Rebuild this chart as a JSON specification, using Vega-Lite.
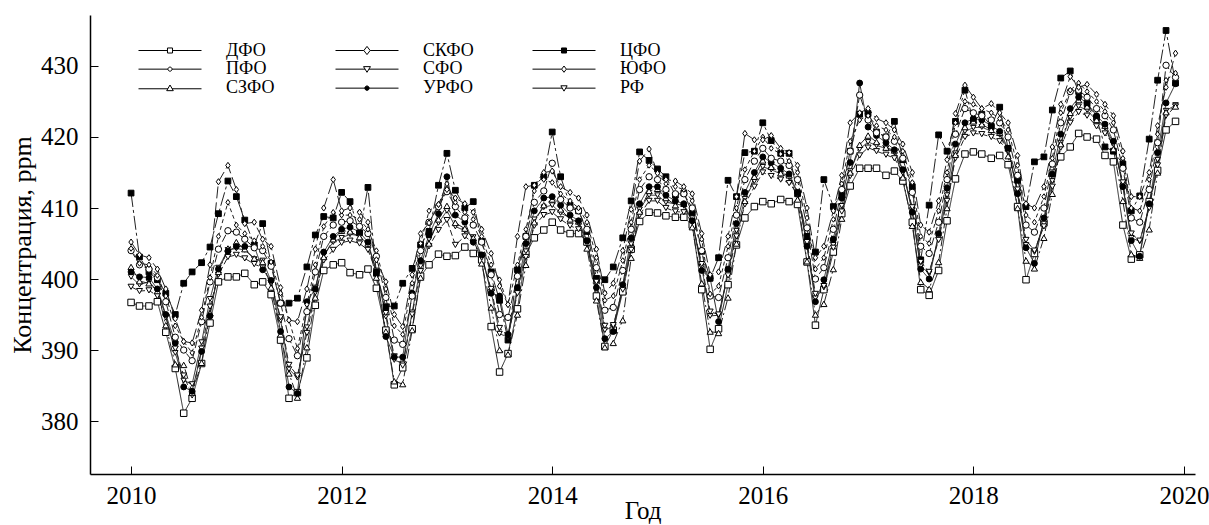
{
"$schema":"https://vega.github.io/schema/vega-lite/v6.json",
"width":1105,"height":459,
"autosize":{"type":"none"},
"padding":{"left":90,"top":15,"right":14,"bottom":51},
"background":"white",
"config":{"view":{"stroke":null},"font":"Liberation Serif"},
"datasets":{"co2":[
{"s":"ДФО","t":2010,"v":396.7},{"s":"ДФО","t":2010.08,"v":396.2},{"s":"ДФО","t":2010.17,"v":396.2},{"s":"ДФО","t":2010.25,"v":396.8},{"s":"ДФО","t":2010.33,"v":392.5},{"s":"ДФО","t":2010.42,"v":387.4},{"s":"ДФО","t":2010.5,"v":381.1},{"s":"ДФО","t":2010.58,"v":383.2},{"s":"ДФО","t":2010.67,"v":388.1},{"s":"ДФО","t":2010.75,"v":393.8},{"s":"ДФО","t":2010.83,"v":399.6},{"s":"ДФО","t":2010.92,"v":400.3},
{"s":"ДФО","t":2011,"v":400.3},{"s":"ДФО","t":2011.08,"v":400.8},{"s":"ДФО","t":2011.17,"v":399.2},{"s":"ДФО","t":2011.25,"v":399.6},{"s":"ДФО","t":2011.33,"v":397.8},{"s":"ДФО","t":2011.42,"v":391.4},{"s":"ДФО","t":2011.5,"v":383.2},{"s":"ДФО","t":2011.58,"v":384.0},{"s":"ДФО","t":2011.67,"v":388.9},{"s":"ДФО","t":2011.75,"v":396.3},{"s":"ДФО","t":2011.83,"v":401.2},{"s":"ДФО","t":2011.92,"v":402.0},
{"s":"ДФО","t":2012,"v":402.3},{"s":"ДФО","t":2012.08,"v":400.9},{"s":"ДФО","t":2012.17,"v":400.6},{"s":"ДФО","t":2012.25,"v":401.4},{"s":"ДФО","t":2012.33,"v":398.7},{"s":"ДФО","t":2012.42,"v":392.8},{"s":"ДФО","t":2012.5,"v":385.1},{"s":"ДФО","t":2012.58,"v":387.5},{"s":"ДФО","t":2012.67,"v":393.0},{"s":"ДФО","t":2012.75,"v":400.4},{"s":"ДФО","t":2012.83,"v":402.0},{"s":"ДФО","t":2012.92,"v":403.5},
{"s":"ДФО","t":2013,"v":403.2},{"s":"ДФО","t":2013.08,"v":403.3},{"s":"ДФО","t":2013.17,"v":404.5},{"s":"ДФО","t":2013.25,"v":403.6},{"s":"ДФО","t":2013.33,"v":402.7},{"s":"ДФО","t":2013.42,"v":393.3},{"s":"ДФО","t":2013.5,"v":386.9},{"s":"ДФО","t":2013.58,"v":389.5},{"s":"ДФО","t":2013.67,"v":395.8},{"s":"ДФО","t":2013.75,"v":403.5},{"s":"ДФО","t":2013.83,"v":405.8},{"s":"ДФО","t":2013.92,"v":406.9},
{"s":"ДФО","t":2014,"v":408.0},{"s":"ДФО","t":2014.08,"v":406.9},{"s":"ДФО","t":2014.17,"v":406.4},{"s":"ДФО","t":2014.25,"v":406.4},{"s":"ДФО","t":2014.33,"v":405.2},{"s":"ДФО","t":2014.42,"v":397.6},{"s":"ДФО","t":2014.5,"v":390.5},{"s":"ДФО","t":2014.58,"v":392.8},{"s":"ДФО","t":2014.67,"v":398.2},{"s":"ДФО","t":2014.75,"v":404.2},{"s":"ДФО","t":2014.83,"v":408.1},{"s":"ДФО","t":2014.92,"v":409.4},
{"s":"ДФО","t":2015,"v":409.3},{"s":"ДФО","t":2015.08,"v":408.9},{"s":"ДФО","t":2015.17,"v":408.7},{"s":"ДФО","t":2015.25,"v":408.7},{"s":"ДФО","t":2015.33,"v":407.6},{"s":"ДФО","t":2015.42,"v":398.5},{"s":"ДФО","t":2015.5,"v":390.1},{"s":"ДФО","t":2015.58,"v":393.0},{"s":"ДФО","t":2015.67,"v":399.2},{"s":"ДФО","t":2015.75,"v":404.8},{"s":"ДФО","t":2015.83,"v":408.6},{"s":"ДФО","t":2015.92,"v":410.2},
{"s":"ДФО","t":2016,"v":410.9},{"s":"ДФО","t":2016.08,"v":410.6},{"s":"ДФО","t":2016.17,"v":411.2},{"s":"ДФО","t":2016.25,"v":410.9},{"s":"ДФО","t":2016.33,"v":410.5},{"s":"ДФО","t":2016.42,"v":402.4},{"s":"ДФО","t":2016.5,"v":393.5},{"s":"ДФО","t":2016.58,"v":398.5},{"s":"ДФО","t":2016.67,"v":403.8},{"s":"ДФО","t":2016.75,"v":409.2},{"s":"ДФО","t":2016.83,"v":413.1},{"s":"ДФО","t":2016.92,"v":415.6},
{"s":"ДФО","t":2017,"v":415.6},{"s":"ДФО","t":2017.08,"v":415.6},{"s":"ДФО","t":2017.17,"v":414.6},{"s":"ДФО","t":2017.25,"v":415.2},{"s":"ДФО","t":2017.33,"v":413.8},{"s":"ДФО","t":2017.42,"v":408.0},{"s":"ДФО","t":2017.5,"v":398.5},{"s":"ДФО","t":2017.58,"v":397.7},{"s":"ДФО","t":2017.67,"v":401.2},{"s":"ДФО","t":2017.75,"v":408.2},{"s":"ДФО","t":2017.83,"v":414.1},{"s":"ДФО","t":2017.92,"v":417.6},
{"s":"ДФО","t":2018,"v":417.9},{"s":"ДФО","t":2018.08,"v":417.6},{"s":"ДФО","t":2018.17,"v":417.0},{"s":"ДФО","t":2018.25,"v":417.4},{"s":"ДФО","t":2018.33,"v":416.1},{"s":"ДФО","t":2018.42,"v":410.2},{"s":"ДФО","t":2018.5,"v":399.9},{"s":"ДФО","t":2018.58,"v":403.6},{"s":"ДФО","t":2018.67,"v":407.9},{"s":"ДФО","t":2018.75,"v":414.9},{"s":"ДФО","t":2018.83,"v":417.2},{"s":"ДФО","t":2018.92,"v":418.6},
{"s":"ДФО","t":2019,"v":420.5},{"s":"ДФО","t":2019.08,"v":420.0},{"s":"ДФО","t":2019.17,"v":419.7},{"s":"ДФО","t":2019.25,"v":417.4},{"s":"ДФО","t":2019.33,"v":416.5},{"s":"ДФО","t":2019.42,"v":407.6},{"s":"ДФО","t":2019.5,"v":402.8},{"s":"ДФО","t":2019.58,"v":403.4},{"s":"ДФО","t":2019.67,"v":410.9},{"s":"ДФО","t":2019.75,"v":415.3},{"s":"ДФО","t":2019.83,"v":421.0},{"s":"ДФО","t":2019.92,"v":422.2},

{"s":"ЦФО","t":2010,"v":412.1},{"s":"ЦФО","t":2010.08,"v":403.1},{"s":"ЦФО","t":2010.17,"v":401.0},{"s":"ЦФО","t":2010.25,"v":399.9},{"s":"ЦФО","t":2010.33,"v":398.0},{"s":"ЦФО","t":2010.42,"v":395.0},{"s":"ЦФО","t":2010.5,"v":399.4},{"s":"ЦФО","t":2010.58,"v":401.0},{"s":"ЦФО","t":2010.67,"v":402.3},{"s":"ЦФО","t":2010.75,"v":404.5},{"s":"ЦФО","t":2010.83,"v":409.2},{"s":"ЦФО","t":2010.92,"v":413.8},
{"s":"ЦФО","t":2011,"v":411.6},{"s":"ЦФО","t":2011.08,"v":408.3},{"s":"ЦФО","t":2011.17,"v":404.8},{"s":"ЦФО","t":2011.25,"v":407.8},{"s":"ЦФО","t":2011.33,"v":402.2},{"s":"ЦФО","t":2011.42,"v":396.6},{"s":"ЦФО","t":2011.5,"v":396.6},{"s":"ЦФО","t":2011.58,"v":397.3},{"s":"ЦФО","t":2011.67,"v":401.7},{"s":"ЦФО","t":2011.75,"v":406.2},{"s":"ЦФО","t":2011.83,"v":408.8},{"s":"ЦФО","t":2011.92,"v":408.6},
{"s":"ЦФО","t":2012,"v":412.2},{"s":"ЦФО","t":2012.08,"v":410.9},{"s":"ЦФО","t":2012.17,"v":406.5},{"s":"ЦФО","t":2012.25,"v":412.9},{"s":"ЦФО","t":2012.33,"v":400.8},{"s":"ЦФО","t":2012.42,"v":396.1},{"s":"ЦФО","t":2012.5,"v":396.2},{"s":"ЦФО","t":2012.58,"v":399.4},{"s":"ЦФО","t":2012.67,"v":401.5},{"s":"ЦФО","t":2012.75,"v":404.8},{"s":"ЦФО","t":2012.83,"v":406.7},{"s":"ЦФО","t":2012.92,"v":413.2},
{"s":"ЦФО","t":2013,"v":417.7},{"s":"ЦФО","t":2013.08,"v":412.5},{"s":"ЦФО","t":2013.17,"v":410.0},{"s":"ЦФО","t":2013.25,"v":410.9},{"s":"ЦФО","t":2013.33,"v":405.3},{"s":"ЦФО","t":2013.42,"v":401.0},{"s":"ЦФО","t":2013.5,"v":397.0},{"s":"ЦФО","t":2013.58,"v":391.4},{"s":"ЦФО","t":2013.67,"v":401.3},{"s":"ЦФО","t":2013.75,"v":406.0},{"s":"ЦФО","t":2013.83,"v":413.2},{"s":"ЦФО","t":2013.92,"v":414.4},
{"s":"ЦФО","t":2014,"v":420.7},{"s":"ЦФО","t":2014.08,"v":414.4},{"s":"ЦФО","t":2014.17,"v":410.4},{"s":"ЦФО","t":2014.25,"v":409.6},{"s":"ЦФО","t":2014.33,"v":406.7},{"s":"ЦФО","t":2014.42,"v":400.1},{"s":"ЦФО","t":2014.5,"v":399.9},{"s":"ЦФО","t":2014.58,"v":401.7},{"s":"ЦФО","t":2014.67,"v":405.8},{"s":"ЦФО","t":2014.75,"v":411.0},{"s":"ЦФО","t":2014.83,"v":417.9},{"s":"ЦФО","t":2014.92,"v":416.7},
{"s":"ЦФО","t":2015,"v":415.5},{"s":"ЦФО","t":2015.08,"v":414.4},{"s":"ЦФО","t":2015.17,"v":411.8},{"s":"ЦФО","t":2015.25,"v":412.1},{"s":"ЦФО","t":2015.33,"v":409.3},{"s":"ЦФО","t":2015.42,"v":403.9},{"s":"ЦФО","t":2015.5,"v":400.1},{"s":"ЦФО","t":2015.58,"v":403.0},{"s":"ЦФО","t":2015.67,"v":413.9},{"s":"ЦФО","t":2015.75,"v":411.6},{"s":"ЦФО","t":2015.83,"v":417.8},{"s":"ЦФО","t":2015.92,"v":418.0},
{"s":"ЦФО","t":2016,"v":422.0},{"s":"ЦФО","t":2016.08,"v":419.5},{"s":"ЦФО","t":2016.17,"v":417.7},{"s":"ЦФО","t":2016.25,"v":417.7},{"s":"ЦФО","t":2016.33,"v":412.0},{"s":"ЦФО","t":2016.42,"v":406.0},{"s":"ЦФО","t":2016.5,"v":403.8},{"s":"ЦФО","t":2016.58,"v":414.0},{"s":"ЦФО","t":2016.67,"v":410.2},{"s":"ЦФО","t":2016.75,"v":412.0},{"s":"ЦФО","t":2016.83,"v":418.0},{"s":"ЦФО","t":2016.92,"v":423.2},
{"s":"ЦФО","t":2017,"v":423.3},{"s":"ЦФО","t":2017.08,"v":420.7},{"s":"ЦФО","t":2017.17,"v":420.0},{"s":"ЦФО","t":2017.25,"v":422.2},{"s":"ЦФО","t":2017.33,"v":416.8},{"s":"ЦФО","t":2017.42,"v":413.0},{"s":"ЦФО","t":2017.5,"v":402.7},{"s":"ЦФО","t":2017.58,"v":410.4},{"s":"ЦФО","t":2017.67,"v":420.3},{"s":"ЦФО","t":2017.75,"v":418.0},{"s":"ЦФО","t":2017.83,"v":422.2},{"s":"ЦФО","t":2017.92,"v":426.6},
{"s":"ЦФО","t":2018,"v":422.3},{"s":"ЦФО","t":2018.08,"v":423.2},{"s":"ЦФО","t":2018.17,"v":421.5},{"s":"ЦФО","t":2018.25,"v":424.2},{"s":"ЦФО","t":2018.33,"v":418.4},{"s":"ЦФО","t":2018.42,"v":413.9},{"s":"ЦФО","t":2018.5,"v":410.2},{"s":"ЦФО","t":2018.58,"v":416.5},{"s":"ЦФО","t":2018.67,"v":417.2},{"s":"ЦФО","t":2018.75,"v":423.8},{"s":"ЦФО","t":2018.83,"v":428.3},{"s":"ЦФО","t":2018.92,"v":429.3},
{"s":"ЦФО","t":2019,"v":426.4},{"s":"ЦФО","t":2019.08,"v":424.7},{"s":"ЦФО","t":2019.17,"v":422.7},{"s":"ЦФО","t":2019.25,"v":418.6},{"s":"ЦФО","t":2019.33,"v":418.0},{"s":"ЦФО","t":2019.42,"v":416.2},{"s":"ЦФО","t":2019.5,"v":409.6},{"s":"ЦФО","t":2019.58,"v":411.7},{"s":"ЦФО","t":2019.67,"v":419.7},{"s":"ЦФО","t":2019.75,"v":428.0},{"s":"ЦФО","t":2019.83,"v":435.0},{"s":"ЦФО","t":2019.92,"v":427.6},

{"s":"РФ","t":2010,"v":400.3},{"s":"РФ","t":2010.08,"v":399.2},{"s":"РФ","t":2010.17,"v":399.6},{"s":"РФ","t":2010.25,"v":398.4},{"s":"РФ","t":2010.33,"v":394.8},{"s":"РФ","t":2010.42,"v":389.6},{"s":"РФ","t":2010.5,"v":385.7},{"s":"РФ","t":2010.58,"v":385.2},{"s":"РФ","t":2010.67,"v":391.1},{"s":"РФ","t":2010.75,"v":397.2},{"s":"РФ","t":2010.83,"v":401.6},{"s":"РФ","t":2010.92,"v":404.1},
{"s":"РФ","t":2011,"v":404.3},{"s":"РФ","t":2011.08,"v":404.1},{"s":"РФ","t":2011.17,"v":402.8},{"s":"РФ","t":2011.25,"v":402.6},{"s":"РФ","t":2011.33,"v":399.7},{"s":"РФ","t":2011.42,"v":394.2},{"s":"РФ","t":2011.5,"v":387.3},{"s":"РФ","t":2011.58,"v":386.1},{"s":"РФ","t":2011.67,"v":393.2},{"s":"РФ","t":2011.75,"v":398.8},{"s":"РФ","t":2011.83,"v":403.4},{"s":"РФ","t":2011.92,"v":405.2},
{"s":"РФ","t":2012,"v":405.8},{"s":"РФ","t":2012.08,"v":406.3},{"s":"РФ","t":2012.17,"v":406.1},{"s":"РФ","t":2012.25,"v":404.8},{"s":"РФ","t":2012.33,"v":401.2},{"s":"РФ","t":2012.42,"v":394.7},{"s":"РФ","t":2012.5,"v":388.6},{"s":"РФ","t":2012.58,"v":388.1},{"s":"РФ","t":2012.67,"v":395.3},{"s":"РФ","t":2012.75,"v":401.8},{"s":"РФ","t":2012.83,"v":405.6},{"s":"РФ","t":2012.92,"v":407.9},
{"s":"РФ","t":2013,"v":409.6},{"s":"РФ","t":2013.08,"v":407.4},{"s":"РФ","t":2013.17,"v":406.8},{"s":"РФ","t":2013.25,"v":405.9},{"s":"РФ","t":2013.33,"v":403.4},{"s":"РФ","t":2013.42,"v":398.2},{"s":"РФ","t":2013.5,"v":392.3},{"s":"РФ","t":2013.58,"v":391.8},{"s":"РФ","t":2013.67,"v":398.3},{"s":"РФ","t":2013.75,"v":403.9},{"s":"РФ","t":2013.83,"v":408.4},{"s":"РФ","t":2013.92,"v":410.1},
{"s":"РФ","t":2014,"v":410.4},{"s":"РФ","t":2014.08,"v":409.3},{"s":"РФ","t":2014.17,"v":408.6},{"s":"РФ","t":2014.25,"v":407.8},{"s":"РФ","t":2014.33,"v":405.2},{"s":"РФ","t":2014.42,"v":399.3},{"s":"РФ","t":2014.5,"v":392.8},{"s":"РФ","t":2014.58,"v":393.3},{"s":"РФ","t":2014.67,"v":398.8},{"s":"РФ","t":2014.75,"v":404.9},{"s":"РФ","t":2014.83,"v":409.8},{"s":"РФ","t":2014.92,"v":411.8},
{"s":"РФ","t":2015,"v":411.8},{"s":"РФ","t":2015.08,"v":410.8},{"s":"РФ","t":2015.17,"v":410.6},{"s":"РФ","t":2015.25,"v":410.3},{"s":"РФ","t":2015.33,"v":408.2},{"s":"РФ","t":2015.42,"v":401.7},{"s":"РФ","t":2015.5,"v":394.8},{"s":"РФ","t":2015.58,"v":394.9},{"s":"РФ","t":2015.67,"v":400.8},{"s":"РФ","t":2015.75,"v":406.8},{"s":"РФ","t":2015.83,"v":411.3},{"s":"РФ","t":2015.92,"v":413.8},
{"s":"РФ","t":2016,"v":415.8},{"s":"РФ","t":2016.08,"v":415.4},{"s":"РФ","t":2016.17,"v":414.8},{"s":"РФ","t":2016.25,"v":414.3},{"s":"РФ","t":2016.33,"v":412.2},{"s":"РФ","t":2016.42,"v":404.7},{"s":"РФ","t":2016.5,"v":397.3},{"s":"РФ","t":2016.58,"v":398.8},{"s":"РФ","t":2016.67,"v":404.8},{"s":"РФ","t":2016.75,"v":410.3},{"s":"РФ","t":2016.83,"v":415.2},{"s":"РФ","t":2016.92,"v":418.3},
{"s":"РФ","t":2017,"v":419.3},{"s":"РФ","t":2017.08,"v":418.8},{"s":"РФ","t":2017.17,"v":418.4},{"s":"РФ","t":2017.25,"v":417.8},{"s":"РФ","t":2017.33,"v":415.3},{"s":"РФ","t":2017.42,"v":409.7},{"s":"РФ","t":2017.5,"v":401.8},{"s":"РФ","t":2017.58,"v":400.8},{"s":"РФ","t":2017.67,"v":405.8},{"s":"РФ","t":2017.75,"v":411.8},{"s":"РФ","t":2017.83,"v":417.7},{"s":"РФ","t":2017.92,"v":420.8},
{"s":"РФ","t":2018,"v":421.3},{"s":"РФ","t":2018.08,"v":421.4},{"s":"РФ","t":2018.17,"v":420.8},{"s":"РФ","t":2018.25,"v":420.3},{"s":"РФ","t":2018.33,"v":418.3},{"s":"РФ","t":2018.42,"v":412.2},{"s":"РФ","t":2018.5,"v":404.8},{"s":"РФ","t":2018.58,"v":403.8},{"s":"РФ","t":2018.67,"v":407.8},{"s":"РФ","t":2018.75,"v":413.8},{"s":"РФ","t":2018.83,"v":419.2},{"s":"РФ","t":2018.92,"v":422.8},
{"s":"РФ","t":2019,"v":424.3},{"s":"РФ","t":2019.08,"v":423.8},{"s":"РФ","t":2019.17,"v":422.3},{"s":"РФ","t":2019.25,"v":421.3},{"s":"РФ","t":2019.33,"v":419.2},{"s":"РФ","t":2019.42,"v":413.2},{"s":"РФ","t":2019.5,"v":405.8},{"s":"РФ","t":2019.58,"v":405.3},{"s":"РФ","t":2019.67,"v":410.2},{"s":"РФ","t":2019.75,"v":416.8},{"s":"РФ","t":2019.83,"v":423.7},{"s":"РФ","t":2019.92,"v":424.5},

{"s":"СФО","t":2010,"v":398.9},{"s":"СФО","t":2010.08,"v":398.3},{"s":"СФО","t":2010.17,"v":398.4},{"s":"СФО","t":2010.25,"v":397.6},{"s":"СФО","t":2010.33,"v":394.6},{"s":"СФО","t":2010.42,"v":390.2},{"s":"СФО","t":2010.5,"v":386.4},{"s":"СФО","t":2010.58,"v":383.6},{"s":"СФО","t":2010.67,"v":390.2},{"s":"СФО","t":2010.75,"v":396.1},{"s":"СФО","t":2010.83,"v":400.6},{"s":"СФО","t":2010.92,"v":403.1},
{"s":"СФО","t":2011,"v":403.4},{"s":"СФО","t":2011.08,"v":402.9},{"s":"СФО","t":2011.17,"v":402.1},{"s":"СФО","t":2011.25,"v":401.6},{"s":"СФО","t":2011.33,"v":399.4},{"s":"СФО","t":2011.42,"v":394.6},{"s":"СФО","t":2011.5,"v":387.9},{"s":"СФО","t":2011.58,"v":386.4},{"s":"СФО","t":2011.67,"v":392.4},{"s":"СФО","t":2011.75,"v":398.1},{"s":"СФО","t":2011.83,"v":402.6},{"s":"СФО","t":2011.92,"v":404.1},
{"s":"СФО","t":2012,"v":405.1},{"s":"СФО","t":2012.08,"v":405.4},{"s":"СФО","t":2012.17,"v":405.0},{"s":"СФО","t":2012.25,"v":404.1},{"s":"СФО","t":2012.33,"v":401.0},{"s":"СФО","t":2012.42,"v":395.2},{"s":"СФО","t":2012.5,"v":389.1},{"s":"СФО","t":2012.58,"v":387.8},{"s":"СФО","t":2012.67,"v":395.0},{"s":"СФО","t":2012.75,"v":401.1},{"s":"СФО","t":2012.83,"v":404.6},{"s":"СФО","t":2012.92,"v":406.9},
{"s":"СФО","t":2013,"v":408.3},{"s":"СФО","t":2013.08,"v":404.8},{"s":"СФО","t":2013.17,"v":406.0},{"s":"СФО","t":2013.25,"v":405.1},{"s":"СФО","t":2013.33,"v":403.0},{"s":"СФО","t":2013.42,"v":398.6},{"s":"СФО","t":2013.5,"v":393.1},{"s":"СФО","t":2013.58,"v":392.0},{"s":"СФО","t":2013.67,"v":398.0},{"s":"СФО","t":2013.75,"v":403.1},{"s":"СФО","t":2013.83,"v":407.5},{"s":"СФО","t":2013.92,"v":409.0},
{"s":"СФО","t":2014,"v":409.4},{"s":"СФО","t":2014.08,"v":408.4},{"s":"СФО","t":2014.17,"v":407.5},{"s":"СФО","t":2014.25,"v":407.0},{"s":"СФО","t":2014.33,"v":405.0},{"s":"СФО","t":2014.42,"v":399.6},{"s":"СФО","t":2014.5,"v":393.4},{"s":"СФО","t":2014.58,"v":393.5},{"s":"СФО","t":2014.67,"v":398.5},{"s":"СФО","t":2014.75,"v":404.1},{"s":"СФО","t":2014.83,"v":409.0},{"s":"СФО","t":2014.92,"v":411.0},
{"s":"СФО","t":2015,"v":411.0},{"s":"СФО","t":2015.08,"v":410.0},{"s":"СФО","t":2015.17,"v":409.5},{"s":"СФО","t":2015.25,"v":409.4},{"s":"СФО","t":2015.33,"v":408.0},{"s":"СФО","t":2015.42,"v":402.1},{"s":"СФО","t":2015.5,"v":395.4},{"s":"СФО","t":2015.58,"v":395.0},{"s":"СФО","t":2015.67,"v":400.5},{"s":"СФО","t":2015.75,"v":406.0},{"s":"СФО","t":2015.83,"v":410.5},{"s":"СФО","t":2015.92,"v":413.0},
{"s":"СФО","t":2016,"v":415.0},{"s":"СФО","t":2016.08,"v":414.5},{"s":"СФО","t":2016.17,"v":414.0},{"s":"СФО","t":2016.25,"v":413.5},{"s":"СФО","t":2016.33,"v":412.0},{"s":"СФО","t":2016.42,"v":405.2},{"s":"СФО","t":2016.5,"v":397.9},{"s":"СФО","t":2016.58,"v":399.0},{"s":"СФО","t":2016.67,"v":404.4},{"s":"СФО","t":2016.75,"v":409.5},{"s":"СФО","t":2016.83,"v":414.5},{"s":"СФО","t":2016.92,"v":417.4},
{"s":"СФО","t":2017,"v":418.5},{"s":"СФО","t":2017.08,"v":418.0},{"s":"СФО","t":2017.17,"v":417.5},{"s":"СФО","t":2017.25,"v":417.0},{"s":"СФО","t":2017.33,"v":415.0},{"s":"СФО","t":2017.42,"v":410.1},{"s":"СФО","t":2017.5,"v":402.4},{"s":"СФО","t":2017.58,"v":401.0},{"s":"СФО","t":2017.67,"v":405.5},{"s":"СФО","t":2017.75,"v":411.0},{"s":"СФО","t":2017.83,"v":417.0},{"s":"СФО","t":2017.92,"v":420.0},
{"s":"СФО","t":2018,"v":420.5},{"s":"СФО","t":2018.08,"v":420.4},{"s":"СФО","t":2018.17,"v":420.0},{"s":"СФО","t":2018.25,"v":419.4},{"s":"СФО","t":2018.33,"v":418.0},{"s":"СФО","t":2018.42,"v":412.6},{"s":"СФО","t":2018.5,"v":405.5},{"s":"СФО","t":2018.58,"v":404.0},{"s":"СФО","t":2018.67,"v":407.4},{"s":"СФО","t":2018.75,"v":413.0},{"s":"СФО","t":2018.83,"v":418.5},{"s":"СФО","t":2018.92,"v":422.0},
{"s":"СФО","t":2019,"v":423.5},{"s":"СФО","t":2019.08,"v":423.0},{"s":"СФО","t":2019.17,"v":421.5},{"s":"СФО","t":2019.25,"v":420.5},{"s":"СФО","t":2019.33,"v":419.0},{"s":"СФО","t":2019.42,"v":413.6},{"s":"СФО","t":2019.5,"v":406.4},{"s":"СФО","t":2019.58,"v":405.4},{"s":"СФО","t":2019.67,"v":410.0},{"s":"СФО","t":2019.75,"v":416.0},{"s":"СФО","t":2019.83,"v":423.0},{"s":"СФО","t":2019.92,"v":424.3},

{"s":"СЗФО","t":2010,"v":401.7},{"s":"СЗФО","t":2010.08,"v":399.7},{"s":"СЗФО","t":2010.17,"v":399.4},{"s":"СЗФО","t":2010.25,"v":398.3},{"s":"СЗФО","t":2010.33,"v":393.5},{"s":"СЗФО","t":2010.42,"v":388.0},{"s":"СЗФО","t":2010.5,"v":387.9},{"s":"СЗФО","t":2010.58,"v":384.0},{"s":"СЗФО","t":2010.67,"v":388.2},{"s":"СЗФО","t":2010.75,"v":395.2},{"s":"СЗФО","t":2010.83,"v":401.0},{"s":"СЗФО","t":2010.92,"v":404.3},
{"s":"СЗФО","t":2011,"v":405.2},{"s":"СЗФО","t":2011.08,"v":404.2},{"s":"СЗФО","t":2011.17,"v":402.9},{"s":"СЗФО","t":2011.25,"v":402.4},{"s":"СЗФО","t":2011.33,"v":398.8},{"s":"СЗФО","t":2011.42,"v":392.2},{"s":"СЗФО","t":2011.5,"v":386.7},{"s":"СЗФО","t":2011.58,"v":383.3},{"s":"СЗФО","t":2011.67,"v":390.4},{"s":"СЗФО","t":2011.75,"v":397.4},{"s":"СЗФО","t":2011.83,"v":403.1},{"s":"СЗФО","t":2011.92,"v":405.6},
{"s":"СЗФО","t":2012,"v":406.8},{"s":"СЗФО","t":2012.08,"v":406.7},{"s":"СЗФО","t":2012.17,"v":405.9},{"s":"СЗФО","t":2012.25,"v":405.0},{"s":"СЗФО","t":2012.33,"v":400.2},{"s":"СЗФО","t":2012.42,"v":392.6},{"s":"СЗФО","t":2012.5,"v":385.6},{"s":"СЗФО","t":2012.58,"v":385.2},{"s":"СЗФО","t":2012.67,"v":392.8},{"s":"СЗФО","t":2012.75,"v":400.2},{"s":"СЗФО","t":2012.83,"v":405.0},{"s":"СЗФО","t":2012.92,"v":408.4},
{"s":"СЗФО","t":2013,"v":410.3},{"s":"СЗФО","t":2013.08,"v":407.9},{"s":"СЗФО","t":2013.17,"v":407.1},{"s":"СЗФО","t":2013.25,"v":405.8},{"s":"СЗФО","t":2013.33,"v":402.2},{"s":"СЗФО","t":2013.42,"v":396.0},{"s":"СЗФО","t":2013.5,"v":390.0},{"s":"СЗФО","t":2013.58,"v":389.4},{"s":"СЗФО","t":2013.67,"v":395.0},{"s":"СЗФО","t":2013.75,"v":402.0},{"s":"СЗФО","t":2013.83,"v":408.0},{"s":"СЗФО","t":2013.92,"v":410.4},
{"s":"СЗФО","t":2014,"v":411.2},{"s":"СЗФО","t":2014.08,"v":409.8},{"s":"СЗФО","t":2014.17,"v":408.4},{"s":"СЗФО","t":2014.25,"v":408.1},{"s":"СЗФО","t":2014.33,"v":404.3},{"s":"СЗФО","t":2014.42,"v":397.0},{"s":"СЗФО","t":2014.5,"v":390.4},{"s":"СЗФО","t":2014.58,"v":391.0},{"s":"СЗФО","t":2014.67,"v":394.2},{"s":"СЗФО","t":2014.75,"v":403.0},{"s":"СЗФО","t":2014.83,"v":409.5},{"s":"СЗФО","t":2014.92,"v":412.4},
{"s":"СЗФО","t":2015,"v":412.7},{"s":"СЗФО","t":2015.08,"v":411.4},{"s":"СЗФО","t":2015.17,"v":410.4},{"s":"СЗФО","t":2015.25,"v":410.6},{"s":"СЗФО","t":2015.33,"v":407.3},{"s":"СЗФО","t":2015.42,"v":399.4},{"s":"СЗФО","t":2015.5,"v":392.6},{"s":"СЗФО","t":2015.58,"v":392.4},{"s":"СЗФО","t":2015.67,"v":397.4},{"s":"СЗФО","t":2015.75,"v":405.0},{"s":"СЗФО","t":2015.83,"v":411.0},{"s":"СЗФО","t":2015.92,"v":414.4},
{"s":"СЗФО","t":2016,"v":416.7},{"s":"СЗФО","t":2016.08,"v":415.8},{"s":"СЗФО","t":2016.17,"v":414.9},{"s":"СЗФО","t":2016.25,"v":414.6},{"s":"СЗФО","t":2016.33,"v":411.2},{"s":"СЗФО","t":2016.42,"v":402.5},{"s":"СЗФО","t":2016.5,"v":395.0},{"s":"СЗФО","t":2016.58,"v":396.5},{"s":"СЗФО","t":2016.67,"v":401.4},{"s":"СЗФО","t":2016.75,"v":408.5},{"s":"СЗФО","t":2016.83,"v":415.0},{"s":"СЗФО","t":2016.92,"v":418.9},
{"s":"СЗФО","t":2017,"v":420.2},{"s":"СЗФО","t":2017.08,"v":419.3},{"s":"СЗФО","t":2017.17,"v":418.5},{"s":"СЗФО","t":2017.25,"v":418.1},{"s":"СЗФО","t":2017.33,"v":414.3},{"s":"СЗФО","t":2017.42,"v":407.5},{"s":"СЗФО","t":2017.5,"v":399.6},{"s":"СЗФО","t":2017.58,"v":398.6},{"s":"СЗФО","t":2017.67,"v":402.4},{"s":"СЗФО","t":2017.75,"v":410.0},{"s":"СЗФО","t":2017.83,"v":417.5},{"s":"СЗФО","t":2017.92,"v":421.4},
{"s":"СЗФО","t":2018,"v":422.2},{"s":"СЗФО","t":2018.08,"v":421.8},{"s":"СЗФО","t":2018.17,"v":421.0},{"s":"СЗФО","t":2018.25,"v":420.6},{"s":"СЗФО","t":2018.33,"v":417.3},{"s":"СЗФО","t":2018.42,"v":410.0},{"s":"СЗФО","t":2018.5,"v":402.6},{"s":"СЗФО","t":2018.58,"v":401.5},{"s":"СЗФО","t":2018.67,"v":405.8},{"s":"СЗФО","t":2018.75,"v":412.0},{"s":"СЗФО","t":2018.83,"v":419.0},{"s":"СЗФО","t":2018.92,"v":423.4},
{"s":"СЗФО","t":2019,"v":425.2},{"s":"СЗФО","t":2019.08,"v":424.3},{"s":"СЗФО","t":2019.17,"v":422.4},{"s":"СЗФО","t":2019.25,"v":421.6},{"s":"СЗФО","t":2019.33,"v":418.3},{"s":"СЗФО","t":2019.42,"v":411.0},{"s":"СЗФО","t":2019.5,"v":403.5},{"s":"СЗФО","t":2019.58,"v":403.0},{"s":"СЗФО","t":2019.67,"v":407.0},{"s":"СЗФО","t":2019.75,"v":415.0},{"s":"СЗФО","t":2019.83,"v":423.5},{"s":"СЗФО","t":2019.92,"v":424.3},

{"s":"УРФО","t":2010,"v":401.0},{"s":"УРФО","t":2010.08,"v":400.3},{"s":"УРФО","t":2010.17,"v":400.2},{"s":"УРФО","t":2010.25,"v":398.6},{"s":"УРФО","t":2010.33,"v":395.0},{"s":"УРФО","t":2010.42,"v":391.0},{"s":"УРФО","t":2010.5,"v":384.8},{"s":"УРФО","t":2010.58,"v":384.2},{"s":"УРФО","t":2010.67,"v":389.8},{"s":"УРФО","t":2010.75,"v":394.8},{"s":"УРФО","t":2010.83,"v":401.4},{"s":"УРФО","t":2010.92,"v":403.9},
{"s":"УРФО","t":2011,"v":404.6},{"s":"УРФО","t":2011.08,"v":404.6},{"s":"УРФО","t":2011.17,"v":404.6},{"s":"УРФО","t":2011.25,"v":401.3},{"s":"УРФО","t":2011.33,"v":399.8},{"s":"УРФО","t":2011.42,"v":392.6},{"s":"УРФО","t":2011.5,"v":384.8},{"s":"УРФО","t":2011.58,"v":383.9},{"s":"УРФО","t":2011.67,"v":396.8},{"s":"УРФО","t":2011.75,"v":398.6},{"s":"УРФО","t":2011.83,"v":403.8},{"s":"УРФО","t":2011.92,"v":406.0},
{"s":"УРФО","t":2012,"v":407.0},{"s":"УРФО","t":2012.08,"v":407.3},{"s":"УРФО","t":2012.17,"v":406.6},{"s":"УРФО","t":2012.25,"v":405.2},{"s":"УРФО","t":2012.33,"v":401.0},{"s":"УРФО","t":2012.42,"v":391.9},{"s":"УРФО","t":2012.5,"v":389.0},{"s":"УРФО","t":2012.58,"v":389.0},{"s":"УРФО","t":2012.67,"v":398.0},{"s":"УРФО","t":2012.75,"v":402.6},{"s":"УРФО","t":2012.83,"v":406.2},{"s":"УРФО","t":2012.92,"v":409.2},
{"s":"УРФО","t":2013,"v":414.4},{"s":"УРФО","t":2013.08,"v":409.0},{"s":"УРФО","t":2013.17,"v":408.0},{"s":"УРФО","t":2013.25,"v":405.2},{"s":"УРФО","t":2013.33,"v":403.4},{"s":"УРФО","t":2013.42,"v":398.0},{"s":"УРФО","t":2013.5,"v":397.6},{"s":"УРФО","t":2013.58,"v":392.2},{"s":"УРФО","t":2013.67,"v":398.8},{"s":"УРФО","t":2013.75,"v":405.0},{"s":"УРФО","t":2013.83,"v":409.6},{"s":"УРФО","t":2013.92,"v":411.4},
{"s":"УРФО","t":2014,"v":411.6},{"s":"УРФО","t":2014.08,"v":410.4},{"s":"УРФО","t":2014.17,"v":409.0},{"s":"УРФО","t":2014.25,"v":408.2},{"s":"УРФО","t":2014.33,"v":405.4},{"s":"УРФО","t":2014.42,"v":398.8},{"s":"УРФО","t":2014.5,"v":391.6},{"s":"УРФО","t":2014.58,"v":392.6},{"s":"УРФО","t":2014.67,"v":399.2},{"s":"УРФО","t":2014.75,"v":405.8},{"s":"УРФО","t":2014.83,"v":410.6},{"s":"УРФО","t":2014.92,"v":413.0},
{"s":"УРФО","t":2015,"v":413.0},{"s":"УРФО","t":2015.08,"v":411.8},{"s":"УРФО","t":2015.17,"v":411.0},{"s":"УРФО","t":2015.25,"v":410.6},{"s":"УРФО","t":2015.33,"v":408.2},{"s":"УРФО","t":2015.42,"v":401.2},{"s":"УРФО","t":2015.5,"v":400.1},{"s":"УРФО","t":2015.58,"v":394.0},{"s":"УРФО","t":2015.67,"v":401.4},{"s":"УРФО","t":2015.75,"v":407.8},{"s":"УРФО","t":2015.83,"v":412.2},{"s":"УРФО","t":2015.92,"v":415.0},
{"s":"УРФО","t":2016,"v":417.2},{"s":"УРФО","t":2016.08,"v":416.4},{"s":"УРФО","t":2016.17,"v":415.6},{"s":"УРФО","t":2016.25,"v":414.8},{"s":"УРФО","t":2016.33,"v":412.2},{"s":"УРФО","t":2016.42,"v":404.6},{"s":"УРФО","t":2016.5,"v":396.8},{"s":"УРФО","t":2016.58,"v":399.9},{"s":"УРФО","t":2016.67,"v":405.6},{"s":"УРФО","t":2016.75,"v":411.4},{"s":"УРФО","t":2016.83,"v":416.4},{"s":"УРФО","t":2016.92,"v":427.6},
{"s":"УРФО","t":2017,"v":421.4},{"s":"УРФО","t":2017.08,"v":420.2},{"s":"УРФО","t":2017.17,"v":419.2},{"s":"УРФО","t":2017.25,"v":418.2},{"s":"УРФО","t":2017.33,"v":415.4},{"s":"УРФО","t":2017.42,"v":409.4},{"s":"УРФО","t":2017.5,"v":401.4},{"s":"УРФО","t":2017.58,"v":400.0},{"s":"УРФО","t":2017.67,"v":406.4},{"s":"УРФО","t":2017.75,"v":412.8},{"s":"УРФО","t":2017.83,"v":419.0},{"s":"УРФО","t":2017.92,"v":422.0},
{"s":"УРФО","t":2018,"v":422.6},{"s":"УРФО","t":2018.08,"v":422.4},{"s":"УРФО","t":2018.17,"v":421.6},{"s":"УРФО","t":2018.25,"v":420.8},{"s":"УРФО","t":2018.33,"v":418.4},{"s":"УРФО","t":2018.42,"v":412.0},{"s":"УРФО","t":2018.5,"v":404.4},{"s":"УРФО","t":2018.58,"v":402.2},{"s":"УРФО","t":2018.67,"v":408.6},{"s":"УРФО","t":2018.75,"v":414.8},{"s":"УРФО","t":2018.83,"v":420.4},{"s":"УРФО","t":2018.92,"v":424.0},
{"s":"УРФО","t":2019,"v":425.6},{"s":"УРФО","t":2019.08,"v":424.8},{"s":"УРФО","t":2019.17,"v":423.0},{"s":"УРФО","t":2019.25,"v":421.8},{"s":"УРФО","t":2019.33,"v":419.4},{"s":"УРФО","t":2019.42,"v":413.0},{"s":"УРФО","t":2019.5,"v":405.4},{"s":"УРФО","t":2019.58,"v":403.2},{"s":"УРФО","t":2019.67,"v":410.6},{"s":"УРФО","t":2019.75,"v":417.8},{"s":"УРФО","t":2019.83,"v":424.8},{"s":"УРФО","t":2019.92,"v":427.5},

{"s":"ПФО","t":2010,"v":404.0},{"s":"ПФО","t":2010.08,"v":402.0},{"s":"ПФО","t":2010.17,"v":401.4},{"s":"ПФО","t":2010.25,"v":400.2},{"s":"ПФО","t":2010.33,"v":396.8},{"s":"ПФО","t":2010.42,"v":391.8},{"s":"ПФО","t":2010.5,"v":390.0},{"s":"ПФО","t":2010.58,"v":388.5},{"s":"ПФО","t":2010.67,"v":394.0},{"s":"ПФО","t":2010.75,"v":399.6},{"s":"ПФО","t":2010.83,"v":404.2},{"s":"ПФО","t":2010.92,"v":406.8},
{"s":"ПФО","t":2011,"v":406.6},{"s":"ПФО","t":2011.08,"v":405.6},{"s":"ПФО","t":2011.17,"v":404.4},{"s":"ПФО","t":2011.25,"v":404.0},{"s":"ПФО","t":2011.33,"v":401.8},{"s":"ПФО","t":2011.42,"v":396.6},{"s":"ПФО","t":2011.5,"v":391.6},{"s":"ПФО","t":2011.58,"v":389.2},{"s":"ПФО","t":2011.67,"v":395.4},{"s":"ПФО","t":2011.75,"v":401.0},{"s":"ПФО","t":2011.83,"v":406.0},{"s":"ПФО","t":2011.92,"v":407.6},
{"s":"ПФО","t":2012,"v":408.0},{"s":"ПФО","t":2012.08,"v":408.2},{"s":"ПФО","t":2012.17,"v":407.4},{"s":"ПФО","t":2012.25,"v":406.4},{"s":"ПФО","t":2012.33,"v":403.2},{"s":"ПФО","t":2012.42,"v":397.4},{"s":"ПФО","t":2012.5,"v":391.4},{"s":"ПФО","t":2012.58,"v":390.8},{"s":"ПФО","t":2012.67,"v":397.6},{"s":"ПФО","t":2012.75,"v":404.0},{"s":"ПФО","t":2012.83,"v":408.0},{"s":"ПФО","t":2012.92,"v":410.2},
{"s":"ПФО","t":2013,"v":412.3},{"s":"ПФО","t":2013.08,"v":410.2},{"s":"ПФО","t":2013.17,"v":408.6},{"s":"ПФО","t":2013.25,"v":407.6},{"s":"ПФО","t":2013.33,"v":405.2},{"s":"ПФО","t":2013.42,"v":400.6},{"s":"ПФО","t":2013.5,"v":395.0},{"s":"ПФО","t":2013.58,"v":394.6},{"s":"ПФО","t":2013.67,"v":400.4},{"s":"ПФО","t":2013.75,"v":406.0},{"s":"ПФО","t":2013.83,"v":410.8},{"s":"ПФО","t":2013.92,"v":412.4},
{"s":"ПФО","t":2014,"v":416.3},{"s":"ПФО","t":2014.08,"v":411.2},{"s":"ПФО","t":2014.17,"v":410.0},{"s":"ПФО","t":2014.25,"v":409.6},{"s":"ПФО","t":2014.33,"v":407.0},{"s":"ПФО","t":2014.42,"v":401.6},{"s":"ПФО","t":2014.5,"v":395.6},{"s":"ПФО","t":2014.58,"v":396.0},{"s":"ПФО","t":2014.67,"v":401.2},{"s":"ПФО","t":2014.75,"v":407.0},{"s":"ПФО","t":2014.83,"v":412.6},{"s":"ПФО","t":2014.92,"v":414.4},
{"s":"ПФО","t":2015,"v":414.0},{"s":"ПФО","t":2015.08,"v":412.6},{"s":"ПФО","t":2015.17,"v":412.0},{"s":"ПФО","t":2015.25,"v":412.0},{"s":"ПФО","t":2015.33,"v":410.0},{"s":"ПФО","t":2015.42,"v":404.0},{"s":"ПФО","t":2015.5,"v":397.6},{"s":"ПФО","t":2015.58,"v":397.4},{"s":"ПФО","t":2015.67,"v":403.0},{"s":"ПФО","t":2015.75,"v":409.0},{"s":"ПФО","t":2015.83,"v":414.0},{"s":"ПФО","t":2015.92,"v":416.6},
{"s":"ПФО","t":2016,"v":418.4},{"s":"ПФО","t":2016.08,"v":417.0},{"s":"ПФО","t":2016.17,"v":416.6},{"s":"ПФО","t":2016.25,"v":416.0},{"s":"ПФО","t":2016.33,"v":414.0},{"s":"ПФО","t":2016.42,"v":407.2},{"s":"ПФО","t":2016.5,"v":400.0},{"s":"ПФО","t":2016.58,"v":401.6},{"s":"ПФО","t":2016.67,"v":407.0},{"s":"ПФО","t":2016.75,"v":412.6},{"s":"ПФО","t":2016.83,"v":418.0},{"s":"ПФО","t":2016.92,"v":425.9},
{"s":"ПФО","t":2017,"v":422.4},{"s":"ПФО","t":2017.08,"v":420.6},{"s":"ПФО","t":2017.17,"v":420.0},{"s":"ПФО","t":2017.25,"v":419.4},{"s":"ПФО","t":2017.33,"v":417.0},{"s":"ПФО","t":2017.42,"v":412.2},{"s":"ПФО","t":2017.5,"v":404.6},{"s":"ПФО","t":2017.58,"v":403.6},{"s":"ПФО","t":2017.67,"v":408.0},{"s":"ПФО","t":2017.75,"v":414.0},{"s":"ПФО","t":2017.83,"v":420.4},{"s":"ПФО","t":2017.92,"v":424.0},
{"s":"ПФО","t":2018,"v":423.4},{"s":"ПФО","t":2018.08,"v":423.0},{"s":"ПФО","t":2018.17,"v":422.4},{"s":"ПФО","t":2018.25,"v":422.0},{"s":"ПФО","t":2018.33,"v":420.0},{"s":"ПФО","t":2018.42,"v":414.6},{"s":"ПФО","t":2018.5,"v":407.6},{"s":"ПФО","t":2018.58,"v":406.6},{"s":"ПФО","t":2018.67,"v":410.0},{"s":"ПФО","t":2018.75,"v":416.2},{"s":"ПФО","t":2018.83,"v":422.0},{"s":"ПФО","t":2018.92,"v":426.4},
{"s":"ПФО","t":2019,"v":426.6},{"s":"ПФО","t":2019.08,"v":425.6},{"s":"ПФО","t":2019.17,"v":424.0},{"s":"ПФО","t":2019.25,"v":423.0},{"s":"ПФО","t":2019.33,"v":421.0},{"s":"ПФО","t":2019.42,"v":415.6},{"s":"ПФО","t":2019.5,"v":408.6},{"s":"ПФО","t":2019.58,"v":408.0},{"s":"ПФО","t":2019.67,"v":412.6},{"s":"ПФО","t":2019.75,"v":419.2},{"s":"ПФО","t":2019.83,"v":430.1},{"s":"ПФО","t":2019.92,"v":428.4},

{"s":"ЮФО","t":2010,"v":404.3},{"s":"ЮФО","t":2010.08,"v":402.2},{"s":"ЮФО","t":2010.17,"v":402.0},{"s":"ЮФО","t":2010.25,"v":400.5},{"s":"ЮФО","t":2010.33,"v":397.6},{"s":"ЮФО","t":2010.42,"v":393.4},{"s":"ЮФО","t":2010.5,"v":391.2},{"s":"ЮФО","t":2010.58,"v":389.6},{"s":"ЮФО","t":2010.67,"v":394.6},{"s":"ЮФО","t":2010.75,"v":400.2},{"s":"ЮФО","t":2010.83,"v":406.0},{"s":"ЮФО","t":2010.92,"v":410.8},
{"s":"ЮФО","t":2011,"v":407.6},{"s":"ЮФО","t":2011.08,"v":406.4},{"s":"ЮФО","t":2011.17,"v":405.4},{"s":"ЮФО","t":2011.25,"v":404.6},{"s":"ЮФО","t":2011.33,"v":402.4},{"s":"ЮФО","t":2011.42,"v":398.0},{"s":"ЮФО","t":2011.5,"v":394.2},{"s":"ЮФО","t":2011.58,"v":390.2},{"s":"ЮФО","t":2011.67,"v":396.4},{"s":"ЮФО","t":2011.75,"v":402.0},{"s":"ЮФО","t":2011.83,"v":407.4},{"s":"ЮФО","t":2011.92,"v":409.4},
{"s":"ЮФО","t":2012,"v":409.0},{"s":"ЮФО","t":2012.08,"v":409.0},{"s":"ЮФО","t":2012.17,"v":408.4},{"s":"ЮФО","t":2012.25,"v":407.0},{"s":"ЮФО","t":2012.33,"v":404.0},{"s":"ЮФО","t":2012.42,"v":398.6},{"s":"ЮФО","t":2012.5,"v":393.4},{"s":"ЮФО","t":2012.58,"v":392.2},{"s":"ЮФО","t":2012.67,"v":399.4},{"s":"ЮФО","t":2012.75,"v":405.0},{"s":"ЮФО","t":2012.83,"v":409.6},{"s":"ЮФО","t":2012.92,"v":410.5},
{"s":"ЮФО","t":2013,"v":413.4},{"s":"ЮФО","t":2013.08,"v":410.8},{"s":"ЮФО","t":2013.17,"v":409.4},{"s":"ЮФО","t":2013.25,"v":408.4},{"s":"ЮФО","t":2013.33,"v":406.0},{"s":"ЮФО","t":2013.42,"v":402.0},{"s":"ЮФО","t":2013.5,"v":399.9},{"s":"ЮФО","t":2013.58,"v":396.4},{"s":"ЮФО","t":2013.67,"v":402.0},{"s":"ЮФО","t":2013.75,"v":407.0},{"s":"ЮФО","t":2013.83,"v":412.4},{"s":"ЮФО","t":2013.92,"v":414.0},
{"s":"ЮФО","t":2014,"v":413.6},{"s":"ЮФО","t":2014.08,"v":412.0},{"s":"ЮФО","t":2014.17,"v":411.0},{"s":"ЮФО","t":2014.25,"v":410.0},{"s":"ЮФО","t":2014.33,"v":408.0},{"s":"ЮФО","t":2014.42,"v":403.0},{"s":"ЮФО","t":2014.5,"v":397.0},{"s":"ЮФО","t":2014.58,"v":397.6},{"s":"ЮФО","t":2014.67,"v":402.6},{"s":"ЮФО","t":2014.75,"v":408.0},{"s":"ЮФО","t":2014.83,"v":414.0},{"s":"ЮФО","t":2014.92,"v":416.0},
{"s":"ЮФО","t":2015,"v":415.0},{"s":"ЮФО","t":2015.08,"v":413.4},{"s":"ЮФО","t":2015.17,"v":413.0},{"s":"ЮФО","t":2015.25,"v":412.6},{"s":"ЮФО","t":2015.33,"v":411.0},{"s":"ЮФО","t":2015.42,"v":405.6},{"s":"ЮФО","t":2015.5,"v":397.9},{"s":"ЮФО","t":2015.58,"v":399.0},{"s":"ЮФО","t":2015.67,"v":404.6},{"s":"ЮФО","t":2015.75,"v":410.0},{"s":"ЮФО","t":2015.83,"v":415.4},{"s":"ЮФО","t":2015.92,"v":418.0},
{"s":"ЮФО","t":2016,"v":420.0},{"s":"ЮФО","t":2016.08,"v":418.4},{"s":"ЮФО","t":2016.17,"v":417.6},{"s":"ЮФО","t":2016.25,"v":416.6},{"s":"ЮФО","t":2016.33,"v":415.0},{"s":"ЮФО","t":2016.42,"v":408.6},{"s":"ЮФО","t":2016.5,"v":401.4},{"s":"ЮФО","t":2016.58,"v":403.0},{"s":"ЮФО","t":2016.67,"v":408.4},{"s":"ЮФО","t":2016.75,"v":413.4},{"s":"ЮФО","t":2016.83,"v":419.4},{"s":"ЮФО","t":2016.92,"v":422.4},
{"s":"ЮФО","t":2017,"v":423.0},{"s":"ЮФО","t":2017.08,"v":421.6},{"s":"ЮФО","t":2017.17,"v":421.0},{"s":"ЮФО","t":2017.25,"v":420.0},{"s":"ЮФО","t":2017.33,"v":418.0},{"s":"ЮФО","t":2017.42,"v":413.6},{"s":"ЮФО","t":2017.5,"v":406.0},{"s":"ЮФО","t":2017.58,"v":405.0},{"s":"ЮФО","t":2017.67,"v":409.6},{"s":"ЮФО","t":2017.75,"v":415.0},{"s":"ЮФО","t":2017.83,"v":422.0},{"s":"ЮФО","t":2017.92,"v":425.0},
{"s":"ЮФО","t":2018,"v":424.6},{"s":"ЮФО","t":2018.08,"v":424.0},{"s":"ЮФО","t":2018.17,"v":423.4},{"s":"ЮФО","t":2018.25,"v":422.6},{"s":"ЮФО","t":2018.33,"v":421.0},{"s":"ЮФО","t":2018.42,"v":416.0},{"s":"ЮФО","t":2018.5,"v":409.0},{"s":"ЮФО","t":2018.58,"v":408.0},{"s":"ЮФО","t":2018.67,"v":411.6},{"s":"ЮФО","t":2018.75,"v":417.0},{"s":"ЮФО","t":2018.83,"v":423.4},{"s":"ЮФО","t":2018.92,"v":426.6},
{"s":"ЮФО","t":2019,"v":427.6},{"s":"ЮФО","t":2019.08,"v":426.4},{"s":"ЮФО","t":2019.17,"v":425.0},{"s":"ЮФО","t":2019.25,"v":423.6},{"s":"ЮФО","t":2019.33,"v":422.0},{"s":"ЮФО","t":2019.42,"v":417.0},{"s":"ЮФО","t":2019.5,"v":410.0},{"s":"ЮФО","t":2019.58,"v":409.6},{"s":"ЮФО","t":2019.67,"v":414.0},{"s":"ЮФО","t":2019.75,"v":420.4},{"s":"ЮФО","t":2019.83,"v":428.0},{"s":"ЮФО","t":2019.92,"v":429.0},

{"s":"СКФО","t":2010,"v":405.2},{"s":"СКФО","t":2010.08,"v":403.4},{"s":"СКФО","t":2010.17,"v":403.0},{"s":"СКФО","t":2010.25,"v":401.4},{"s":"СКФО","t":2010.33,"v":398.6},{"s":"СКФО","t":2010.42,"v":394.4},{"s":"СКФО","t":2010.5,"v":391.2},{"s":"СКФО","t":2010.58,"v":391.0},{"s":"СКФО","t":2010.67,"v":395.6},{"s":"СКФО","t":2010.75,"v":402.0},{"s":"СКФО","t":2010.83,"v":413.7},{"s":"СКФО","t":2010.92,"v":416.0},
{"s":"СКФО","t":2011,"v":412.6},{"s":"СКФО","t":2011.08,"v":407.8},{"s":"СКФО","t":2011.17,"v":408.0},{"s":"СКФО","t":2011.25,"v":405.6},{"s":"СКФО","t":2011.33,"v":404.6},{"s":"СКФО","t":2011.42,"v":398.8},{"s":"СКФО","t":2011.5,"v":394.2},{"s":"СКФО","t":2011.58,"v":394.0},{"s":"СКФО","t":2011.67,"v":398.6},{"s":"СКФО","t":2011.75,"v":404.2},{"s":"СКФО","t":2011.83,"v":410.0},{"s":"СКФО","t":2011.92,"v":414.0},
{"s":"СКФО","t":2012,"v":409.6},{"s":"СКФО","t":2012.08,"v":410.0},{"s":"СКФО","t":2012.17,"v":409.4},{"s":"СКФО","t":2012.25,"v":408.0},{"s":"СКФО","t":2012.33,"v":402.7},{"s":"СКФО","t":2012.42,"v":399.6},{"s":"СКФО","t":2012.5,"v":395.0},{"s":"СКФО","t":2012.58,"v":393.3},{"s":"СКФО","t":2012.67,"v":400.6},{"s":"СКФО","t":2012.75,"v":406.4},{"s":"СКФО","t":2012.83,"v":407.9},{"s":"СКФО","t":2012.92,"v":410.5},
{"s":"СКФО","t":2013,"v":412.6},{"s":"СКФО","t":2013.08,"v":411.4},{"s":"СКФО","t":2013.17,"v":410.6},{"s":"СКФО","t":2013.25,"v":409.4},{"s":"СКФО","t":2013.33,"v":407.0},{"s":"СКФО","t":2013.42,"v":403.6},{"s":"СКФО","t":2013.5,"v":399.0},{"s":"СКФО","t":2013.58,"v":396.4},{"s":"СКФО","t":2013.67,"v":406.0},{"s":"СКФО","t":2013.75,"v":413.0},{"s":"СКФО","t":2013.83,"v":413.2},{"s":"СКФО","t":2013.92,"v":415.0},
{"s":"СКФО","t":2014,"v":415.2},{"s":"СКФО","t":2014.08,"v":413.0},{"s":"СКФО","t":2014.17,"v":412.2},{"s":"СКФО","t":2014.25,"v":411.4},{"s":"СКФО","t":2014.33,"v":409.0},{"s":"СКФО","t":2014.42,"v":404.2},{"s":"СКФО","t":2014.5,"v":398.0},{"s":"СКФО","t":2014.58,"v":399.4},{"s":"СКФО","t":2014.67,"v":404.0},{"s":"СКФО","t":2014.75,"v":409.8},{"s":"СКФО","t":2014.83,"v":416.6},{"s":"СКФО","t":2014.92,"v":418.3},
{"s":"СКФО","t":2015,"v":414.9},{"s":"СКФО","t":2015.08,"v":414.0},{"s":"СКФО","t":2015.17,"v":413.8},{"s":"СКФО","t":2015.25,"v":413.0},{"s":"СКФО","t":2015.33,"v":412.0},{"s":"СКФО","t":2015.42,"v":406.4},{"s":"СКФО","t":2015.5,"v":400.6},{"s":"СКФО","t":2015.58,"v":401.0},{"s":"СКФО","t":2015.67,"v":406.0},{"s":"СКФО","t":2015.75,"v":411.6},{"s":"СКФО","t":2015.83,"v":420.5},{"s":"СКФО","t":2015.92,"v":419.6},
{"s":"СКФО","t":2016,"v":419.6},{"s":"СКФО","t":2016.08,"v":420.2},{"s":"СКФО","t":2016.17,"v":418.4},{"s":"СКФО","t":2016.25,"v":417.8},{"s":"СКФО","t":2016.33,"v":416.0},{"s":"СКФО","t":2016.42,"v":410.0},{"s":"СКФО","t":2016.5,"v":403.0},{"s":"СКФО","t":2016.58,"v":404.6},{"s":"СКФО","t":2016.67,"v":409.6},{"s":"СКФО","t":2016.75,"v":414.6},{"s":"СКФО","t":2016.83,"v":422.0},{"s":"СКФО","t":2016.92,"v":423.4},
{"s":"СКФО","t":2017,"v":424.0},{"s":"СКФО","t":2017.08,"v":422.6},{"s":"СКФО","t":2017.17,"v":422.0},{"s":"СКФО","t":2017.25,"v":421.0},{"s":"СКФО","t":2017.33,"v":419.0},{"s":"СКФО","t":2017.42,"v":415.0},{"s":"СКФО","t":2017.5,"v":407.6},{"s":"СКФО","t":2017.58,"v":406.6},{"s":"СКФО","t":2017.67,"v":411.0},{"s":"СКФО","t":2017.75,"v":416.8},{"s":"СКФО","t":2017.83,"v":423.3},{"s":"СКФО","t":2017.92,"v":427.3},
{"s":"СКФО","t":2018,"v":425.6},{"s":"СКФО","t":2018.08,"v":424.0},{"s":"СКФО","t":2018.17,"v":424.7},{"s":"СКФО","t":2018.25,"v":423.4},{"s":"СКФО","t":2018.33,"v":422.0},{"s":"СКФО","t":2018.42,"v":417.4},{"s":"СКФО","t":2018.5,"v":410.6},{"s":"СКФО","t":2018.58,"v":410.0},{"s":"СКФО","t":2018.67,"v":413.0},{"s":"СКФО","t":2018.75,"v":418.6},{"s":"СКФО","t":2018.83,"v":424.6},{"s":"СКФО","t":2018.92,"v":428.5},
{"s":"СКФО","t":2019,"v":427.0},{"s":"СКФО","t":2019.08,"v":427.4},{"s":"СКФО","t":2019.17,"v":426.0},{"s":"СКФО","t":2019.25,"v":424.6},{"s":"СКФО","t":2019.33,"v":423.0},{"s":"СКФО","t":2019.42,"v":418.0},{"s":"СКФО","t":2019.5,"v":411.6},{"s":"СКФО","t":2019.58,"v":411.6},{"s":"СКФО","t":2019.67,"v":415.0},{"s":"СКФО","t":2019.75,"v":421.6},{"s":"СКФО","t":2019.83,"v":427.0},{"s":"СКФО","t":2019.92,"v":431.8}
]},
"layer":[
{"data":{"name":"co2"},
 "mark":{"type":"line","color":"#222","strokeWidth":1},
 "encoding":{
  "x":{"field":"t","type":"quantitative","scale":{"domain":[2009.61,2020.105],"nice":false,"zero":false},
       "axis":{"values":[2010,2012,2014,2016,2018,2020],"format":"d","title":"Год","grid":false,"tickSize":-8,"labelPadding":17,
               "labelFont":"Liberation Serif","labelFontSize":25,"labelColor":"black","domainColor":"black","tickColor":"black","domainWidth":1.5,
               "titleFont":"Liberation Serif","titleFontSize":25,"titleFontWeight":"normal","titleColor":"black","titlePadding":-10}},
  "y":{"field":"v","type":"quantitative","scale":{"domain":[372.54,437.18],"nice":false,"zero":false},
       "axis":{"values":[380,390,400,410,420,430],"title":"Концентрация, ppm","grid":false,"tickSize":-8,"labelPadding":20,
               "labelFont":"Liberation Serif","labelFontSize":25,"labelColor":"black","domainColor":"black","tickColor":"black","domainWidth":1.5,
               "titleFont":"Liberation Serif","titleFontSize":26,"titleFontWeight":"normal","titleColor":"black","titlePadding":5}},
  "detail":{"field":"s"},
  "strokeDash":{"field":"s","type":"nominal","legend":null,
    "scale":{"domain":["ДФО","ПФО","СЗФО","СКФО","СФО","УРФО","ЦФО","ЮФО","РФ"],
             "range":[[1,0],[8,3],[10,3,2,3],[12,4],[6,3],[1,0],[14,3,3,3],[4,3],[1,0]]}}
 }},
{"data":{"name":"co2"},
 "mark":{"type":"point","filled":true,"stroke":"black","strokeWidth":1,"opacity":1},
 "encoding":{
  "x":{"field":"t","type":"quantitative"},
  "y":{"field":"v","type":"quantitative"},
  "shape":{"field":"s","type":"nominal","legend":null,
    "scale":{"domain":["ДФО","ПФО","СЗФО","СКФО","СФО","УРФО","ЦФО","ЮФО","РФ"],
             "range":["square","circle","triangle-up","M0,-1L0.72,0L0,1L-0.72,0Z","triangle-down","circle","square","M0,-1L0.72,0L0,1L-0.72,0Z","triangle-down"]}},
  "fill":{"field":"s","type":"nominal","legend":null,
    "scale":{"domain":["ДФО","ПФО","СЗФО","СКФО","СФО","УРФО","ЦФО","ЮФО","РФ"],
             "range":["white","white","white","white","white","black","black","white","white"]}},
  "size":{"field":"s","type":"nominal","legend":null,
    "scale":{"domain":["ДФО","ПФО","СЗФО","СКФО","СФО","УРФО","ЦФО","ЮФО","РФ"],
             "range":[42,30,56,85,50,30,42,60,50]}}
 }},
{"data":{"values":[]},
 "mark":{"type":"point","filled":true,"stroke":"black","strokeWidth":1,"size":3969,"opacity":1},
 "encoding":{
  "shape":{"field":"s","type":"nominal",
    "scale":{"domain":["ДФО","ПФО","СЗФО","СКФО","СФО","УРФО","ЦФО","ЮФО","РФ"],
             "range":[
              "M-1,0H-0.08M0.08,0H1M-0.08,-0.08H0.08V0.08H-0.08Z",
              "M-1,0H-0.065M0.065,0H1M-0.065,0A0.065,0.065 0 1,0 0.065,0A0.065,0.065 0 1,0 -0.065,0Z",
              "M-1,0.02H-0.065M0.065,0.02H1M0,-0.1L0.105,0.08L-0.105,0.08Z",
              "M-1,0H-0.1M0.1,0H1M0,-0.13L0.1,0L0,0.13L-0.1,0Z",
              "M-1,0H-0.06M0.06,0H1M-0.11,-0.08L0.11,-0.08L0,0.1Z",
              "M-1,0H-0.07M0.07,0H1M-0.07,0A0.07,0.07 0 1,0 0.07,0A0.07,0.07 0 1,0 -0.07,0Z",
              "M-1,0H-0.08M0.08,0H1M-0.08,-0.08H0.08V0.08H-0.08Z",
              "M-1,0H-0.075M0.075,0H1M0,-0.1L0.075,0L0,0.1L-0.075,0Z",
              "M-1,0H-0.06M0.06,0H1M-0.1,-0.075L0.1,-0.075L0,0.095Z"]},
    "legend":{"title":null,"orient":"none","legendX":48,"legendY":26,"columns":3,"gridAlign":"all","columnPadding":58,"rowPadding":0,
              "clipHeight":18.3,"symbolSize":3969,"symbolStrokeColor":"black","symbolStrokeWidth":1,"symbolOpacity":1,"labelOffset":24,
              "labelFont":"Liberation Serif","labelFontSize":18,"labelColor":"black","padding":0,
              "encode":{"symbols":{"update":{"stroke":{"value":"black"},"strokeWidth":{"value":1},"opacity":{"value":1}}}}}},
  "fill":{"field":"s","type":"nominal",
    "scale":{"domain":["ДФО","ПФО","СЗФО","СКФО","СФО","УРФО","ЦФО","ЮФО","РФ"],
             "range":["white","white","white","white","white","black","black","white","white"]},
    "legend":{"title":null,"orient":"none","legendX":48,"legendY":26,"columns":3,"gridAlign":"all","columnPadding":58,"rowPadding":0,
              "clipHeight":18.3,"symbolSize":3969,"symbolStrokeColor":"black","symbolStrokeWidth":1,"symbolOpacity":1,"labelOffset":24,
              "labelFont":"Liberation Serif","labelFontSize":18,"labelColor":"black","padding":0,
              "encode":{"symbols":{"update":{"stroke":{"value":"black"},"strokeWidth":{"value":1},"opacity":{"value":1}}}}}}
 }}
],
"resolve":{"scale":{"shape":"independent","fill":"independent","size":"independent","strokeDash":"independent"},
           "legend":{"shape":"independent","fill":"independent"}}
}
